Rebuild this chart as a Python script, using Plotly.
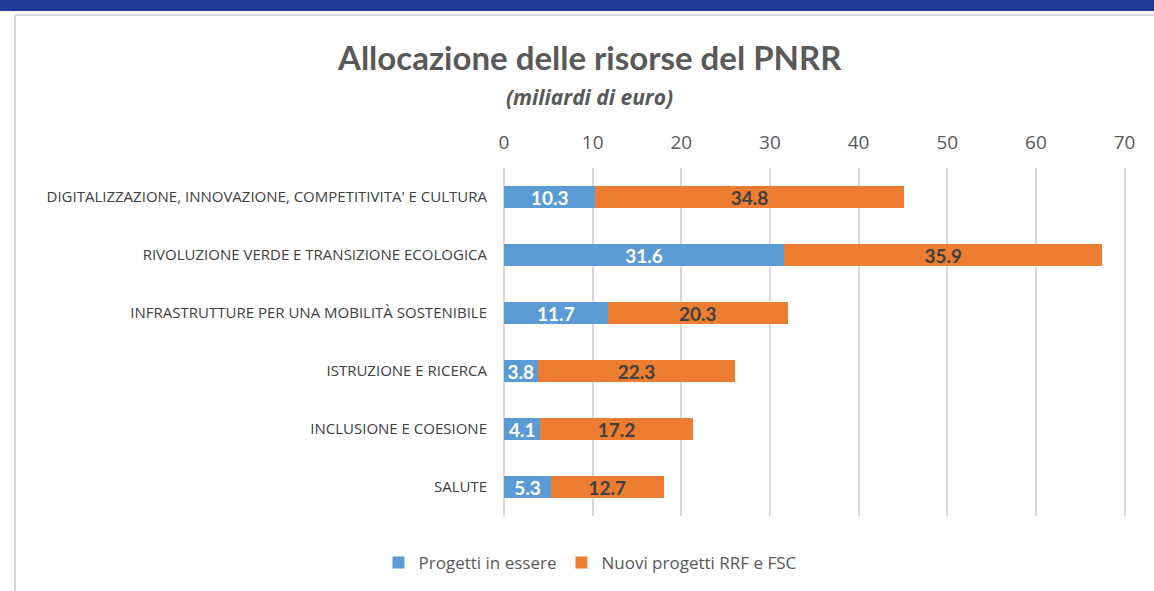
import plotly.graph_objects as go

categories = [
    "DIGITALIZZAZIONE, INNOVAZIONE, COMPETITIVITA' E CULTURA",
    "RIVOLUZIONE VERDE E TRANSIZIONE ECOLOGICA",
    "INFRASTRUTTURE PER UNA MOBILITÀ SOSTENIBILE",
    "ISTRUZIONE E RICERCA",
    "INCLUSIONE E COESIONE",
    "SALUTE",
]
progetti_in_essere = [10.3, 31.6, 11.7, 3.8, 4.1, 5.3]
nuovi_progetti = [34.8, 35.9, 20.3, 22.3, 17.2, 12.7]
x_ticks = [0, 10, 20, 30, 40, 50, 60, 70]

SANS = "Open Sans, sans-serif"
TITLE_FONT = "Lato, sans-serif"
LABEL_FONT = "Lato, sans-serif"
W, H = 1154, 591
L, R, T, B = 504, 1129, 168, 516

def px(x):
    return (x - L) / (R - L)

def py(y):
    return (B - y) / (B - T)

fig = go.Figure()
fig.add_trace(go.Bar(
    y=categories, x=progetti_in_essere, orientation="h",
    name="Progetti in essere", marker=dict(color="#5B9BD5", line=dict(width=0)),
    texttemplate="%{x:.1f}", textposition="inside", insidetextanchor="middle",
    constraintext="none",
    textfont=dict(family=LABEL_FONT, size=19, color="white", weight="bold"),
))
fig.add_trace(go.Bar(
    y=categories, x=nuovi_progetti, orientation="h",
    name="Nuovi progetti RRF e FSC", marker=dict(color="#ED7D31", line=dict(width=0)),
    texttemplate="%{x:.1f}", textposition="inside", insidetextanchor="middle",
    constraintext="none",
    textfont=dict(family=LABEL_FONT, size=19, color="#404040", weight="bold"),
))

shapes = [
    dict(type="rect", xref="paper", yref="paper", x0=px(0), x1=px(W), y0=py(0), y1=py(11),
         fillcolor="#1F3A93", line=dict(width=0), layer="above"),
    dict(type="line", xref="paper", yref="paper", x0=px(15), x1=px(W), y0=py(15), y1=py(15),
         line=dict(color="#D9D9D9", width=2)),
    dict(type="line", xref="paper", yref="paper", x0=px(15), x1=px(15), y0=py(15), y1=py(H),
         line=dict(color="#D9D9D9", width=2)),
]

annotations = [
    dict(text="<b>Allocazione delle risorse del PNRR</b>", xref="paper", yref="paper",
         x=px(589), y=py(57), showarrow=False, xanchor="center", yanchor="middle",
         font=dict(family=TITLE_FONT, size=33, color="#595959")),
    dict(text="<b><i>(miliardi di euro)</i></b>", xref="paper", yref="paper",
         x=px(589), y=py(97), showarrow=False, xanchor="center", yanchor="middle",
         font=dict(family=SANS, size=21, color="#595959")),
]

fig.update_layout(
    barmode="stack",
    bargap=0.62,
    width=W, height=H,
    margin=dict(l=L, r=W - R, t=T, b=H - B, autoexpand=False),
    paper_bgcolor="white", plot_bgcolor="white",
    font=dict(family=SANS, color="#595959"),
    shapes=shapes,
    annotations=annotations,
    showlegend=True,
    legend=dict(orientation="h", x=px(590), y=py(563), xanchor="center", yanchor="middle",
                font=dict(family=SANS, size=17, color="#595959"), traceorder="normal"),
    xaxis=dict(side="top", range=[0, 70.5], tickvals=x_ticks, showgrid=True,
               gridcolor="#D9D9D9", gridwidth=1.5, zeroline=True, zerolinecolor="#D9D9D9",
               zerolinewidth=1.5, showline=False, ticks="", ticklabelstandoff=14,
               tickfont=dict(family=SANS, size=19, color="#595959"), fixedrange=True),
    yaxis=dict(autorange="reversed", showgrid=False, showline=False, ticks="",
               ticklabelstandoff=16,
               tickfont=dict(family=SANS, size=15, color="#404040"), fixedrange=True),
)

fig.write_html("out.html", config={"displayModeBar": False},
               post_script="document.body.style.margin='0';")
